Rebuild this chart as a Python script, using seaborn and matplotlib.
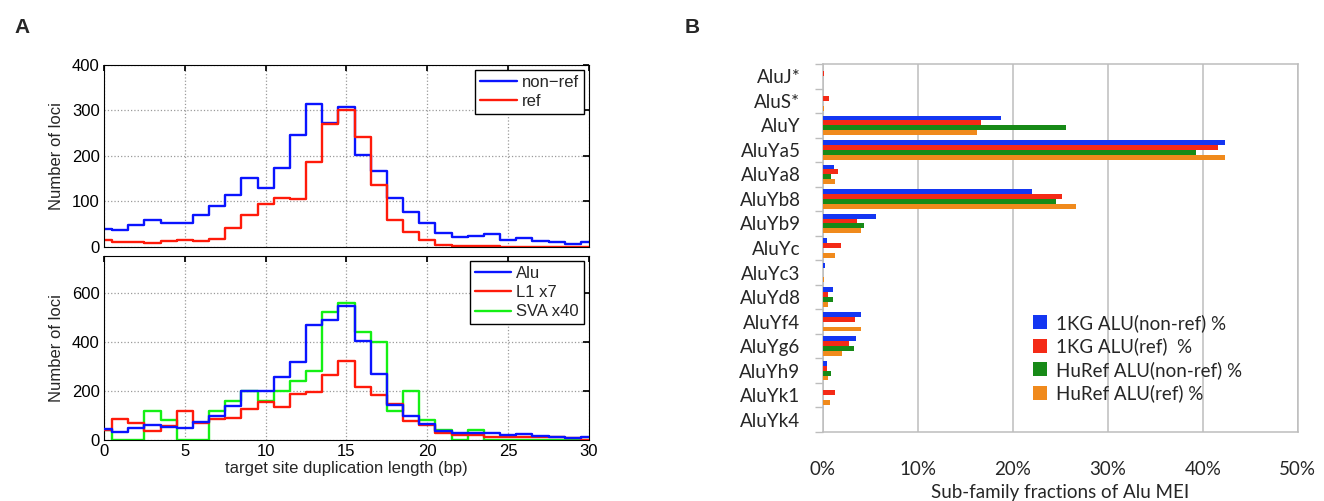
import numpy as np
import pandas as pd
import matplotlib
matplotlib.use("Agg")
import matplotlib.pyplot as plt
import seaborn as sns
from matplotlib.ticker import PercentFormatter, MultipleLocator, FixedLocator

# ---- panel A data: TSD length histograms (counts per 1 bp bin) ----
tsd_len = list(range(31))
nonref = [40, 38, 48, 60, 52, 53, 70, 90, 114, 152, 130, 173, 246, 315, 273, 307,
          203, 167, 107, 77, 52, 30, 22, 25, 29, 16, 19, 14, 11, 6, 10]
ref = [16, 10, 12, 9, 13, 15, 13, 18, 41, 71, 94, 108, 105, 186, 270, 300,
       242, 137, 59, 33, 15, 5, 3, 2, 2, 1, 1, 1, 1, 1, 1]
alu = [45, 34, 50, 61, 54, 50, 72, 98, 138, 200, 200, 256, 316, 467, 490, 547,
       404, 268, 142, 96, 64, 38, 28, 27, 28, 19, 23, 16, 14, 8, 11]
l1_x7 = [42, 84, 70, 35, 56, 119, 70, 84, 91, 126, 154, 133, 189, 196, 266, 322,
         217, 182, 147, 77, 63, 28, 21, 21, 14, 14, 14, 14, 14, 7, 0]
sva_x40 = [40, 0, 0, 120, 80, 0, 0, 120, 160, 200, 160, 200, 240, 280, 520, 560,
           440, 400, 120, 200, 80, 40, 0, 40, 0, 0, 0, 0, 0, 0, 0]

# ---- panel B data: Alu sub-family fractions (%) ----
subfam = ["AluJ*", "AluS*", "AluY", "AluYa5", "AluYa8", "AluYb8", "AluYb9", "AluYc",
          "AluYc3", "AluYd8", "AluYf4", "AluYg6", "AluYh9", "AluYk1", "AluYk4"]
kg_nonref = [0.0, 0.05, 18.8, 42.3, 1.2, 22.0, 5.6, 0.5, 0.25, 1.1, 4.0, 3.5, 0.5, 0.0, 0.05]
kg_ref = [0.1, 0.65, 16.7, 41.6, 1.6, 25.2, 3.6, 1.95, 0.0, 0.6, 3.4, 2.75, 0.4, 1.25, 0.0]
huref_nonref = [0.0, 0.0, 25.6, 39.3, 0.9, 24.6, 4.3, 0.0, 0.0, 1.05, 0.0, 3.3, 0.9, 0.0, 0.0]
huref_ref = [0.05, 0.1, 16.2, 42.3, 1.3, 26.7, 4.0, 1.3, 0.1, 0.55, 4.0, 2.0, 0.55, 0.75, 0.05]
series_names = ["1KG ALU(non-ref) %", "1KG ALU(ref)  %", "HuRef ALU(non-ref) %", "HuRef ALU(ref) %"]
series_colors = ["#1436f2", "#f42a16", "#178a17", "#f08a1c"]

sns.set_theme(style="white")
plt.rcParams["font.family"] = ["Liberation Sans", "DejaVu Sans"]

fig = plt.figure(figsize=(13.24, 5.01), dpi=100)
ax1 = fig.add_axes([0.0785, 0.507, 0.3663, 0.3636])
ax2 = fig.add_axes([0.0785, 0.1218, 0.3663, 0.3672])
axB = fig.add_axes([0.6214, 0.1377, 0.3588, 0.7346])


def matlab_style(ax, ymax, ystep):
    ax.set_xlim(0, 30)
    ax.set_ylim(0, ymax)
    ax.xaxis.set_major_locator(MultipleLocator(5))
    ax.yaxis.set_major_locator(MultipleLocator(ystep))
    ax.grid(True, linestyle=":", color="#9a9a9a", linewidth=0.9)
    ax.tick_params(direction="in", top=True, right=True, length=4,
                   labelsize=12, colors="black", pad=3)
    for s in ax.spines.values():
        s.set_color("black")
        s.set_linewidth(0.8)
    ax.set_ylabel("Number of loci", fontsize=12, labelpad=6)


# top: non-ref vs ref
sns.lineplot(x=tsd_len, y=nonref, drawstyle="steps-mid", color="#0a14ff", lw=1.7,
             ax=ax1, label="non\u2212ref")
sns.lineplot(x=tsd_len, y=ref, drawstyle="steps-mid", color="#ff1a0a", lw=1.7,
             ax=ax1, label="ref")
matlab_style(ax1, 400, 100)
ax1.set_xticklabels([])
ax1.set_xlabel("")
ax1.legend(loc="upper right", fontsize=12, fancybox=False, edgecolor="black",
           framealpha=1, borderaxespad=0.3, handlelength=2.2, handletextpad=0.3,
           borderpad=0.3, labelspacing=0.25)

# bottom: Alu / L1 / SVA
sns.lineplot(x=tsd_len, y=alu, drawstyle="steps-mid", color="#0a14ff", lw=1.7,
             ax=ax2, label="Alu", zorder=4)
sns.lineplot(x=tsd_len, y=l1_x7, drawstyle="steps-mid", color="#ff1a0a", lw=1.7,
             ax=ax2, label="L1 x7", zorder=3)
sns.lineplot(x=tsd_len, y=sva_x40, drawstyle="steps-mid", color="#14f014", lw=1.7,
             ax=ax2, label="SVA x40", zorder=2)
matlab_style(ax2, 750, 200)
ax2.set_xlabel("target site duplication length (bp)", fontsize=12, labelpad=1)
ax2.legend(loc="upper right", fontsize=12, fancybox=False, edgecolor="black",
           framealpha=1, borderaxespad=0.3, handlelength=2.2, handletextpad=0.3,
           borderpad=0.3, labelspacing=0.25)

# panel B: grouped horizontal bars
df = pd.DataFrame({
    "subfamily": subfam * 4,
    "pct": kg_nonref + kg_ref + huref_nonref + huref_ref,
    "series": np.repeat(series_names, len(subfam)),
})
sns.barplot(data=df, y="subfamily", x="pct", hue="series", orient="h",
            order=subfam, hue_order=series_names, palette=series_colors,
            width=0.8, gap=0, ax=axB, saturation=1, linewidth=0, zorder=3)
axB.set_xlim(0, 50)
axB.set_ylim(len(subfam) - 0.5, -0.5)
axB.xaxis.set_major_locator(MultipleLocator(10))
axB.xaxis.set_major_formatter(PercentFormatter(decimals=0))
axB.grid(True, axis="x", color="#bdbdbd", linewidth=1.1, zorder=0)
axB.grid(False, axis="y")
for s in axB.spines.values():
    s.set_color("#bdbdbd")
    s.set_linewidth(1.1)
axB.yaxis.set_minor_locator(FixedLocator(np.arange(-0.5, len(subfam), 1.0)))
axB.tick_params(axis="y", which="major", length=0, pad=16, labelsize=13.5)
axB.tick_params(axis="y", which="minor", left=True, length=6, width=1, color="#bdbdbd")
axB.tick_params(axis="x", which="major", length=0, pad=21, labelsize=13.5)
for lab in axB.get_yticklabels() + axB.get_xticklabels():
    lab.set_fontfamily(["Lato", "DejaVu Sans"])
axB.set_ylabel("")
axB.set_xlabel("Sub-family fractions of Alu MEI", fontsize=13.5,
               fontfamily=["Lato", "DejaVu Sans"], labelpad=4)
axB.legend(loc="upper left", bbox_to_anchor=(0.408, 0.367), frameon=False,
           handlelength=0.75, handleheight=0.75, handletextpad=0.45,
           labelspacing=0.3, prop={"family": "Lato", "size": 13.5})

fig.text(0.011, 0.945, "A", fontsize=15, fontweight="bold", va="center")
fig.text(0.517, 0.945, "B", fontsize=15, fontweight="bold", va="center")

fig.savefig("out.png", dpi=100)
